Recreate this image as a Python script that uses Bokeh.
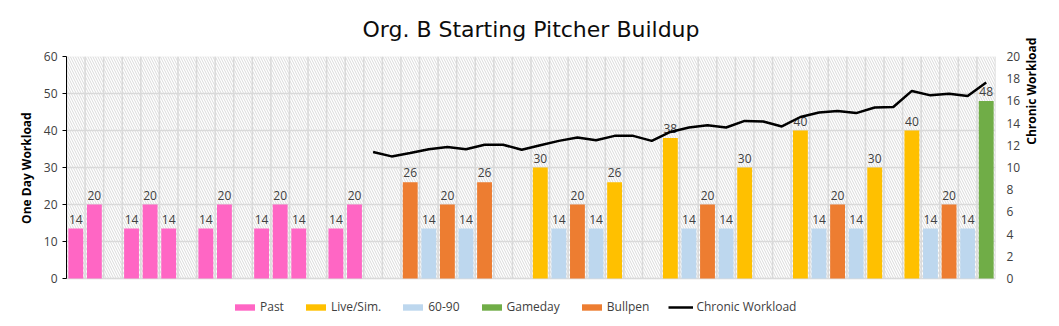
import math
from bokeh.plotting import figure
from bokeh.models import (Range1d, LinearAxis, FixedTicker, Legend, LegendItem,
                          BoxAnnotation, ColumnDataSource)
from bokeh.core.properties import value
from bokeh.embed import file_html
from bokeh.resources import INLINE

# ---------------- data ----------------
n_days = 50

past_days = [0, 1, 3, 4, 5, 7, 8, 10, 11, 12, 14, 15]
past_vals = [13.5, 20, 13.5, 20, 13.5, 13.5, 20, 13.5, 20, 13.5, 13.5, 20]

live_days = [25, 29, 32, 36, 39, 43, 45]
live_vals = [30, 26, 38, 30, 40, 30, 40]

sixty_days = [19, 21, 26, 28, 33, 35, 40, 42, 46, 48]
sixty_vals = [13.5, 13.5, 13.5, 13.5, 13.5, 13.5, 13.5, 13.5, 13.5, 13.5]

gameday_days = [49]
gameday_vals = [48]

bullpen_days = [18, 20, 22, 27, 34, 41, 47]
bullpen_vals = [26, 20, 26, 20, 20, 20, 20]

chronic_days = list(range(16, 50))
chronic_vals = [11.4, 11.0, 11.3, 11.65, 11.85, 11.65, 12.05, 12.05, 11.6, 12.0,
                12.4, 12.7, 12.45, 12.85, 12.85, 12.4, 13.2, 13.6, 13.8, 13.6,
                14.2, 14.15, 13.7, 14.55, 14.95, 15.1, 14.9, 15.4, 15.45, 16.9,
                16.5, 16.65, 16.45, 17.65]

y_max = 60
y2_max = 20

series = [
    ("Past", past_days, past_vals, "#FF66C4"),
    ("Live/Sim.", live_days, live_vals, "#FFC000"),
    ("60-90", sixty_days, sixty_vals, "#BDD7EE"),
    ("Gameday", gameday_days, gameday_vals, "#70AD47"),
    ("Bullpen", bullpen_days, bullpen_vals, "#ED7D31"),
]

FONT = "Open Sans"

# layout: plotting area 222 px tall, 48 px of room left below it for the legend
DATA_H = 222
LEGEND_ROOM = 48
y_lo = -LEGEND_ROOM * y_max / DATA_H
y2_lo = -LEGEND_ROOM * y2_max / DATA_H
PAD = "\u00a0" * 15  # keeps the rotated axis titles centred on the data area

p = figure(frame_width=929, frame_height=DATA_H + LEGEND_ROOM, output_backend="svg",
           toolbar_location=None,
           x_range=Range1d(-0.5, n_days - 0.5), y_range=Range1d(y_lo, y_max),
           x_axis_location=None,
           min_border_left=66, min_border_right=64, min_border_top=10,
           min_border_bottom=0, title="Org. B Starting Pitcher Buildup")

p.title.align = "center"
p.title.text_font = "DejaVu Sans"
p.title.text_font_size = "22px"
p.title.text_font_style = "normal"
p.title.text_color = "#0d0d0d"
p.title.standoff = 29

p.background_fill_color = "white"
p.border_fill_color = "white"
p.outline_line_color = None

# hatched plot background with grey border
bg = BoxAnnotation(bottom=0, top=y_max, fill_color="white", fill_alpha=1.0,
                   line_color="#d9d9d9", line_width=1.5,
                   hatch_pattern="\\", hatch_color="#d0d0d0", hatch_scale=5,
                   hatch_weight=0.8, level="image")
p.add_layout(bg)

# grids
p.xgrid.visible = False
bounds = [i - 0.5 for i in range(n_days + 1)]
p.segment(x0=bounds, y0=[0] * len(bounds), x1=bounds, y1=[y_max] * len(bounds),
          line_color="#d9d9d9", line_width=1.5, level="underlay")
p.ygrid.ticker = FixedTicker(ticks=list(range(0, y_max + 1, 10)))
p.ygrid.grid_line_color = "#d9d9d9"
p.ygrid.grid_line_width = 1.5

# left axis
la = p.yaxis[0]
la.ticker = FixedTicker(ticks=list(range(0, y_max + 1, 10)))
la.bounds = (0, y_max)
la.axis_label = PAD + "One Day Workload"
la.axis_label_text_font = FONT
la.axis_label_text_font_size = "12px"
la.axis_label_text_font_style = "bold"
la.axis_label_text_color = "#000000"
la.major_label_text_font = FONT
la.major_label_text_font_size = "12px"
la.major_label_text_color = "#404040"
la.axis_line_color = "#000000"
la.major_tick_line_color = "#000000"
la.major_tick_in = 0
la.major_tick_out = 4
la.minor_tick_line_color = None
la.axis_label_standoff = 6

# right axis
p.extra_y_ranges = {"chronic": Range1d(y2_lo, y2_max)}
ra = LinearAxis(y_range_name="chronic",
                ticker=FixedTicker(ticks=list(range(0, y2_max + 1, 2))))
ra.bounds = (0, y2_max)
ra.axis_label = PAD + "Chronic Workload"
ra.axis_label_text_font = FONT
ra.axis_label_text_font_size = "12px"
ra.axis_label_text_font_style = "bold"
ra.axis_label_text_color = "#000000"
ra.axis_label_standoff = 8
if "axis_label_orientation" in ra.properties():
    ra.axis_label_orientation = math.pi / 2
ra.major_label_text_font = FONT
ra.major_label_text_font_size = "12px"
ra.major_label_text_color = "#404040"
ra.axis_line_color = None
ra.major_tick_line_color = None
ra.minor_tick_line_color = None
p.add_layout(ra, "right")

# bars
items = []
lab_x, lab_y, lab_t = [], [], []
for name, d, v, c in series:
    r = p.vbar(x=d, top=v, bottom=0, width=0.8, fill_color=c, line_color=None)
    items.append(LegendItem(label=name, renderers=[r]))
    lab_x += d
    lab_y += v
    lab_t += [f"{val:.0f}" for val in v]

lab_src = ColumnDataSource(dict(x=lab_x, y=lab_y, t=lab_t))
p.text(x="x", y="y", text="t", source=lab_src, text_align="center",
       text_baseline="bottom", y_offset=-5, text_font=value(FONT),
       text_font_size="12px", text_color="#404040")

# chronic line
lr = p.line(chronic_days, chronic_vals, y_range_name="chronic",
            line_color="black", line_width=2.5)
items.append(LegendItem(label="Chronic Workload", renderers=[lr]))

legend = Legend(items=items, orientation="horizontal", location=(166, 11),
                border_line_color=None, background_fill_alpha=0,
                label_text_font=FONT, label_text_font_size="12px",
                label_text_color="#404040", glyph_width=25, glyph_height=8,
                label_height=16, label_standoff=3, spacing=19,
                padding=4, margin=0)
p.add_layout(legend)

open("out.html", "w").write(file_html(p, INLINE))
